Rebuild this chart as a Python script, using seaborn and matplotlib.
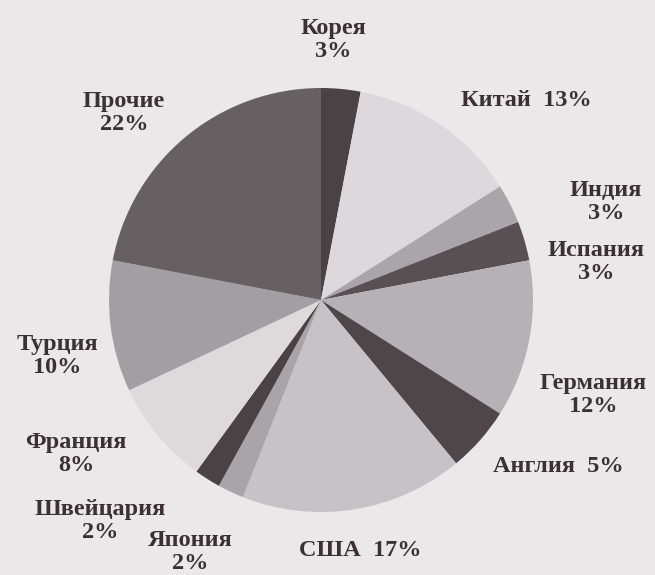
import matplotlib
matplotlib.use("Agg")
import matplotlib.pyplot as plt
import seaborn as sns

countries = ["Корея", "Китай", "Индия", "Испания", "Германия", "Англия",
             "США", "Япония", "Швейцария", "Франция", "Турция", "Прочие"]
shares = [3, 13, 3, 3, 12, 5, 17, 2, 2, 8, 10, 22]
label_texts = ["Корея\n3%", "Китай  13%", "Индия\n3%", "Испания\n3%",
               "Германия\n12%", "Англия  5%", "США  17%", "Япония\n2%",
               "Швейцария\n2%", "Франция\n8%", "Турция\n10%", "Прочие\n22%"]
slice_colors = ["#4a4245", "#dcd8db", "#a9a5a8", "#585053", "#b5b1b4", "#4e4649",
                "#c6c2c5", "#a8a4a7", "#4a4245", "#dedadc", "#a29ea1", "#666063"]

sns.set_theme(style="white")
plt.rcParams['font.family'] = ['Liberation Serif', 'DejaVu Serif']

W, H = 655, 575
fig = plt.figure(figsize=(W / 100, H / 100), dpi=100)
bg = "#ebe8ea"
fig.patch.set_facecolor(bg)
ax = fig.add_axes([0, 0, 1, 1])
ax.set_facecolor(bg)

cx, cy, r = 321, H - 300, 212
ax.pie(shares, colors=sns.color_palette(slice_colors), startangle=90,
       counterclock=False, center=(cx, cy), radius=r,
       wedgeprops=dict(linewidth=0))

# label anchor positions (pixels from top-left)
label_pos = [(333, 40), (526, 100), (606, 202), (596, 262), (593, 395),
             (558, 467), (360, 550), (190, 552), (100, 521), (76, 454),
             (57, 356), (124, 113)]
for txt, (x, y) in zip(label_texts, label_pos):
    ax.text(x, H - y, txt, ha="center", va="center", fontsize=17.5,
            fontweight="bold", color="#3b3134", linespacing=1.12)

ax.set_xlim(0, W)
ax.set_ylim(0, H)
ax.set_aspect("equal")
ax.axis("off")
fig.savefig("out.png", dpi=100, facecolor=bg)
